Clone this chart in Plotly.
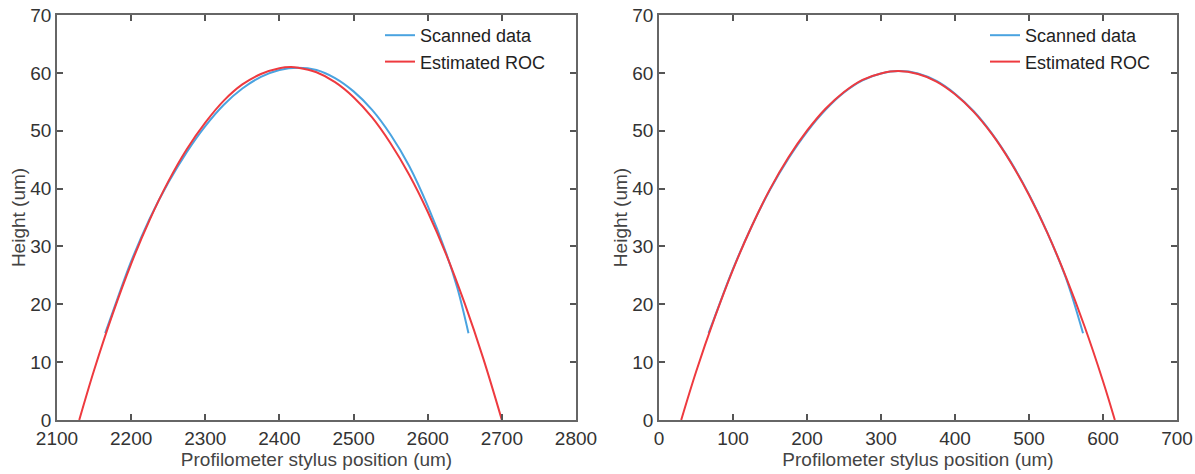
import plotly.graph_objects as go

# Left sample
left_scan_x = [2165, 2175, 2200, 2225, 2250, 2275, 2300, 2325, 2350, 2375, 2400, 2425,
               2450, 2475, 2500, 2525, 2550, 2575, 2600, 2625, 2640, 2655]
left_scan_y = [15.0, 18.6, 27.4, 34.8, 41.0, 46.3, 50.8, 54.5, 57.3, 59.3, 60.5, 60.9,
               60.5, 59.1, 56.8, 53.6, 49.3, 43.9, 37.0, 28.8, 22.8, 15.0]
left_roc_x = [2130, 2150, 2175, 2200, 2225, 2250, 2275, 2300, 2325, 2350, 2375, 2400, 2415,
              2425, 2450, 2475, 2500, 2525, 2550, 2575, 2600, 2625, 2650, 2675, 2700]
left_roc_y = [0.0, 8.6, 18.3, 27.0, 34.6, 41.2, 46.8, 51.4, 55.2, 58.0, 59.8, 60.8, 61.0,
              60.9, 60.1, 58.4, 55.8, 52.3, 47.8, 42.4, 36.0, 28.6, 20.1, 10.6, 0.0]

# Right sample
right_scan_x = [67, 75, 100, 125, 150, 175, 200, 225, 250, 275, 300, 325,
                350, 375, 400, 425, 450, 475, 500, 525, 550, 573]
right_scan_y = [15.0, 17.7, 26.1, 33.4, 39.8, 45.2, 49.8, 53.6, 56.6, 58.7, 59.9, 60.3,
                59.9, 58.6, 56.4, 53.4, 49.5, 44.7, 39.0, 32.3, 24.5, 15.0]
right_roc_x = [30, 50, 75, 100, 125, 150, 175, 200, 225, 250, 275, 300, 323,
               350, 375, 400, 425, 450, 475, 500, 525, 550, 575, 600, 616]
right_roc_y = [0.0, 8.3, 17.6, 26.0, 33.4, 39.9, 45.4, 50.0, 53.8, 56.7, 58.8, 59.9, 60.3,
               59.8, 58.5, 56.3, 53.3, 49.4, 44.6, 38.9, 32.3, 24.7, 16.2, 6.7, 0.0]

series_names = ["Scanned data", "Estimated ROC"]
x_title = "Profilometer stylus position (um)"
y_title = "Height (um)"
y_ticks = [0, 10, 20, 30, 40, 50, 60, 70]
left_x_ticks = [2100, 2200, 2300, 2400, 2500, 2600, 2700, 2800]
right_x_ticks = [0, 100, 200, 300, 400, 500, 600, 700]

BLUE = "#4aa3e0"
RED = "#ee3a3f"
FONT = "Liberation Sans, Arial, sans-serif"

W, H = 1195, 474

fig = go.Figure()
fig.add_trace(go.Scatter(x=left_scan_x, y=left_scan_y, mode="lines", name=series_names[0],
                         line=dict(color=BLUE, width=2, shape="spline"),
                         xaxis="x", yaxis="y", legend="legend"))
fig.add_trace(go.Scatter(x=left_roc_x, y=left_roc_y, mode="lines", name=series_names[1],
                         line=dict(color=RED, width=2, shape="spline"),
                         xaxis="x", yaxis="y", legend="legend"))
fig.add_trace(go.Scatter(x=right_scan_x, y=right_scan_y, mode="lines", name=series_names[0],
                         line=dict(color=BLUE, width=2, shape="spline"),
                         xaxis="x2", yaxis="y2", legend="legend2"))
fig.add_trace(go.Scatter(x=right_roc_x, y=right_roc_y, mode="lines", name=series_names[1],
                         line=dict(color=RED, width=2, shape="spline"),
                         xaxis="x2", yaxis="y2", legend="legend2"))

axis_common = dict(showline=True, linecolor="#666666", linewidth=1.5, mirror="ticks",
                   ticks="inside", ticklen=6, tickcolor="#555555", tickwidth=1.5,
                   showgrid=False, zeroline=False, automargin=False,
                   ticklabeloverflow="allow",
                   tickfont=dict(family=FONT, size=19, color="#333333"))
title_font = dict(family=FONT, size=19, color="#444444")


def px_x(p):
    return p / W


def px_y(p):
    return (H - p) / H


ydom = [px_y(420), px_y(15)]
fig.update_layout(
    width=W, height=H,
    margin=dict(l=0, r=0, t=0, b=0),
    paper_bgcolor="white", plot_bgcolor="white",
    font=dict(family=FONT, color="#333333"),
    xaxis=dict(domain=[px_x(57), px_x(576)], range=[2100, 2800], tickvals=left_x_ticks,
               title=dict(text=x_title, font=title_font, standoff=4),
               anchor="y", **axis_common),
    yaxis=dict(domain=ydom, range=[0, 70], tickvals=y_ticks,
               title=dict(text=y_title, font=title_font, standoff=0),
               anchor="x", **axis_common),
    xaxis2=dict(domain=[px_x(659), px_x(1177)], range=[0, 700], tickvals=right_x_ticks,
                title=dict(text=x_title, font=title_font, standoff=4),
                anchor="y2", **axis_common),
    yaxis2=dict(domain=ydom, range=[0, 70], tickvals=y_ticks,
                title=dict(text=y_title, font=title_font, standoff=0),
                anchor="x2", **axis_common),
    legend=dict(x=px_x(380), y=px_y(17), xanchor="left", yanchor="top",
                bgcolor="rgba(0,0,0,0)", font=dict(family=FONT, size=18, color="#222222"),
                itemwidth=30),
    legend2=dict(x=px_x(985), y=px_y(17), xanchor="left", yanchor="top",
                 bgcolor="rgba(0,0,0,0)", font=dict(family=FONT, size=18, color="#222222"),
                 itemwidth=30),
)

fig.write_html("out.html", config={"displayModeBar": False},
               post_script="document.body.style.margin='0';document.body.style.padding='0';")
